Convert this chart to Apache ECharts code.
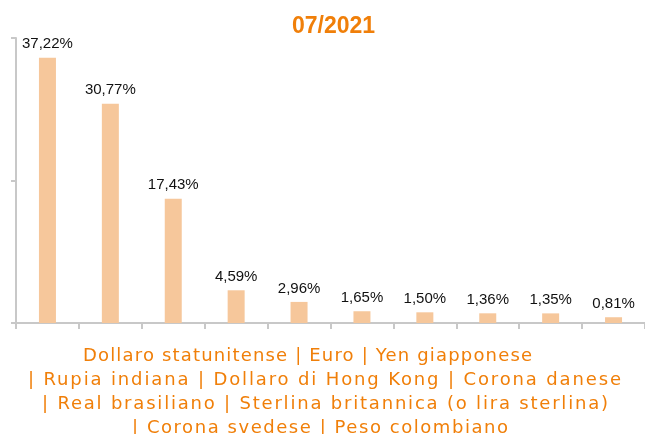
<!DOCTYPE html>
<html>
<head>
<meta charset="utf-8">
<script src="https://cdn.jsdelivr.net/npm/echarts@6/dist/echarts.min.js"></script>
<style>
html,body{margin:0;padding:0;background:#fff;overflow:hidden;}
#wrap{position:relative;width:645px;height:434px;overflow:hidden;}
#chart{position:absolute;left:0;top:0;width:645px;height:434px;}
.nm{position:absolute;font-family:"DejaVu Sans",sans-serif;font-size:18px;line-height:24px;color:#F07F09;white-space:nowrap;}
</style>
</head>
<body>
<div id="wrap">
<div id="chart"></div>
</div>
<script>
const title = "07/2021";
const categories = ["Dollaro statunitense","Euro","Yen giapponese","Rupia indiana","Dollaro di Hong Kong","Corona danese","Real brasiliano","Sterlina britannica (o lira sterlina)","Corona svedese","Peso colombiano"];
const values = [37.22, 30.77, 17.43, 4.59, 2.96, 1.65, 1.50, 1.36, 1.35, 0.81];
const lineGroups = [[0,1,2],[3,4,5],[6,7],[8,9]];

// layout of the wrapped category caption (left, right pixel extents of each line)
const lineBox = [[84,533],[29,622],[43,609],[133,509]];
const wrap = document.getElementById('wrap');
lineGroups.forEach((g, i) => {
  const s = document.createElement('span');
  s.className = 'nm';
  const txt = (i > 0 ? "| " : "") + g.map(k => categories[k]).join(" | ");
  s.textContent = txt;
  s.style.top = (343 + i * 24) + 'px';
  wrap.appendChild(s);
  const w = s.getBoundingClientRect().width;
  const target = lineBox[i][1] - lineBox[i][0];
  const ls = (target - w) / (txt.length - 1);
  s.style.letterSpacing = ls + 'px';
  s.style.left = (lineBox[i][0] - 1) + 'px';
});

const chart = echarts.init(document.getElementById('chart'));
chart.setOption({
  backgroundColor: '#ffffff',
  animation: false,
  title: {
    text: title,
    left: 287,
    top: 10,
    textStyle: {fontFamily: 'Liberation Sans, Arial, sans-serif', fontSize: 23, fontWeight: 'bold', color: '#F07F09'}
  },
  grid: {left: 16, top: 38, width: 632, height: 285, containLabel: false},
  xAxis: {
    type: 'category',
    data: categories,
    boundaryGap: true,
    axisLine: {show: true, lineStyle: {color: '#c8c8c8', width: 2}},
    axisTick: {show: true, interval: 0, length: 6, lineStyle: {color: '#c8c8c8', width: 2}},
    axisLabel: {show: false, interval: 0}
  },
  yAxis: {
    type: 'value',
    min: 0,
    max: 40,
    interval: 20,
    axisLine: {show: true, lineStyle: {color: '#c8c8c8', width: 2}},
    axisTick: {show: true, length: 5, lineStyle: {color: '#c8c8c8', width: 2}},
    axisLabel: {show: false},
    splitLine: {show: false}
  },
  series: [{
    type: 'bar',
    data: values,
    barWidth: 17,
    itemStyle: {color: '#F6C79B'},
    label: {
      show: true,
      position: 'top',
      distance: 6,
      fontFamily: 'Liberation Sans, Arial, sans-serif',
      fontSize: 15,
      color: '#111111',
      formatter: p => p.value.toFixed(2).replace('.', ',') + '%'
    }
  }]
});
</script>
</body>
</html>
